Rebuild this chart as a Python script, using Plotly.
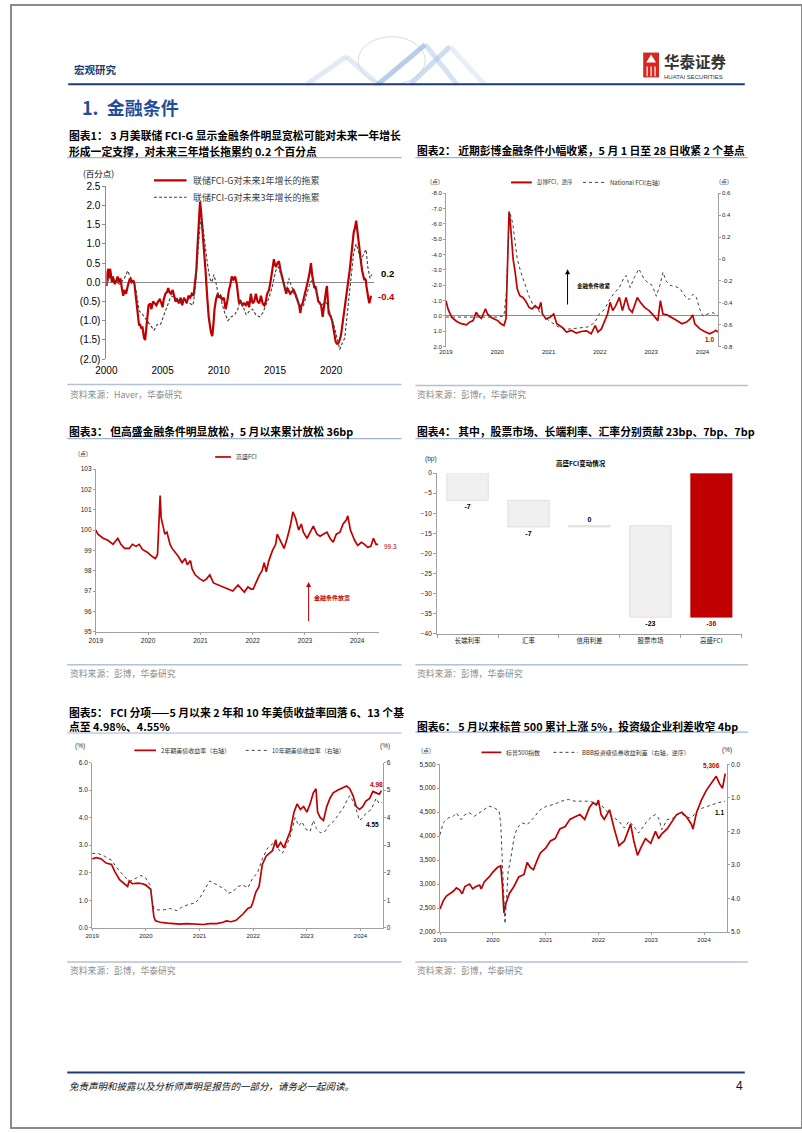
import plotly.graph_objects as go

W, H = 802, 1133
def X(p): return p / W
def Y(p): return 1 - p / H

CJK = "Noto Sans CJK SC"
LAT = "Liberation Sans, Noto Sans CJK SC"
RED = "#c00000"
AXC = "#a0a0a0"

# ---------------- Chart 1: Fed FCI-G ----------------
c1_t1 = [2000.0,2000.08,2000.17,2000.25,2000.33,2000.42,2000.5,2000.58,2000.67,2000.75,2000.9,2001.0,2001.1,2001.25,2001.4,2001.5,2001.6,2001.75,2001.9,2002.0,2002.1,2002.25,2002.4,2002.5,2002.6,2002.75,2002.9,2003.0,2003.1,2003.2,2003.35,2003.45,2003.6,2003.75,2003.9,2004.0,2004.15,2004.3,2004.45,2004.6,2004.75,2004.9,2005.0,2005.1,2005.25,2005.4,2005.5,2005.6,2005.75,2005.9,2006.0,2006.15,2006.3,2006.45,2006.6,2006.75,2006.9,2007.0,2007.15,2007.3,2007.45,2007.6,2007.75,2007.85,2008.0,2008.1,2008.2,2008.27,2008.33,2008.42,2008.52,2008.62,2008.72,2008.82,2008.95,2009.1,2009.3,2009.42,2009.52,2009.62,2009.75,2009.9,2010.0,2010.15,2010.3,2010.45,2010.6,2010.75,2010.9,2011.0,2011.15,2011.3,2011.45,2011.6,2011.7,2011.8,2011.95,2012.1,2012.25,2012.4,2012.55,2012.7,2012.85,2013.0,2013.15,2013.3,2013.45,2013.6,2013.75,2013.9,2014.05,2014.18,2014.3,2014.47,2014.62,2014.77,2014.9,2015.0,2015.1,2015.22,2015.35,2015.5,2015.65,2015.8,2016.0,2016.1,2016.2,2016.35,2016.5,2016.65,2016.8,2016.92,2017.05,2017.15,2017.25,2017.35,2017.45,2017.58,2017.7,2017.8,2017.9,2018.05,2018.2,2018.3,2018.4,2018.5,2018.6,2018.72,2018.85,2019.0,2019.1,2019.24,2019.35,2019.45,2019.55,2019.62,2019.7,2019.77,2019.87,2019.97,2020.08,2020.18,2020.3,2020.4,2020.5,2020.6,2020.7,2020.85,2020.95,2021.05,2021.15,2021.25,2021.35,2021.43,2021.55,2021.64,2021.75,2021.84,2021.92,2022.0,2022.1,2022.22,2022.3,2022.37,2022.45,2022.5,2022.58,2022.66,2022.75,2022.87,2022.95,2023.0,2023.08,2023.13,2023.2,2023.25,2023.32,2023.39,2023.47,2023.54]
c1_v1 = [-0.1,0.25,0.35,0.1,0.35,0.2,0.0,0.15,0.0,-0.05,0.05,0.15,0.0,0.1,-0.2,-0.35,-0.2,-0.3,-0.1,0.0,0.1,0.0,0.05,-0.05,-0.3,-0.6,-1.1,-1.1,-1.2,-1.15,-1.45,-1.5,-1.1,-0.6,-0.55,-0.7,-0.5,-0.55,-0.6,-0.5,-0.45,-0.55,-0.65,-0.45,-0.3,-0.25,-0.15,-0.25,-0.3,-0.2,-0.35,-0.5,-0.45,-0.55,-0.4,-0.6,-0.4,-0.45,-0.55,-0.35,-0.4,-0.3,-0.35,-0.1,0.3,0.9,1.6,1.75,2.1,1.85,1.5,1.1,0.7,0.3,-0.3,-0.9,-1.3,-1.4,-1.1,-0.7,-0.45,-0.3,-0.4,-0.35,-0.45,-0.4,-0.7,-0.5,-0.2,-0.1,0.15,0.05,0.15,-0.05,-0.3,-0.55,-0.5,-0.6,-0.55,-0.6,-0.5,-0.65,-0.3,-0.55,-0.5,-0.3,-0.5,-0.55,-0.35,-0.55,-0.6,-0.5,-0.3,-0.2,0.05,0.3,0.6,0.45,0.4,0.5,0.55,0.3,0.1,-0.1,-0.3,-0.15,-0.2,-0.3,-0.25,-0.2,-0.3,-0.4,-0.55,-0.6,-0.8,-0.6,-0.55,-0.4,-0.3,-0.15,0.0,0.2,0.5,0.2,0.0,-0.15,-0.1,-0.3,-0.5,-0.55,-0.6,-0.9,-0.6,-0.4,-0.2,-0.1,-0.5,-0.8,-0.85,-0.9,-1.0,-1.2,-1.4,-1.55,-1.6,-1.6,-1.55,-1.4,-1.2,-1.0,-0.8,-0.5,-0.3,-0.2,0.1,0.3,0.6,0.9,1.1,1.3,1.4,1.6,1.4,1.2,1.0,0.8,0.65,0.5,0.3,0.1,0.05,0.1,0.05,-0.1,-0.25,-0.4,-0.45,-0.55,-0.45,-0.35]
c1_t3 = [2000.0,2000.3,2000.73,2001.17,2001.6,2001.9,2002.1,2002.34,2002.63,2002.92,2003.13,2003.36,2003.65,2003.95,2004.24,2004.53,2004.82,2005.12,2005.41,2005.7,2006.0,2006.3,2006.6,2006.87,2007.16,2007.46,2007.7,2007.9,2008.04,2008.19,2008.33,2008.48,2008.63,2008.77,2008.98,2009.2,2009.38,2009.56,2009.74,2009.94,2010.23,2010.53,2010.82,2011.1,2011.4,2011.7,2011.9,2012.13,2012.43,2012.72,2013.0,2013.3,2013.6,2013.9,2014.18,2014.47,2014.77,2015.06,2015.3,2015.5,2015.8,2016.0,2016.23,2016.46,2016.7,2016.96,2017.25,2017.54,2017.84,2018.13,2018.33,2018.57,2018.86,2019.15,2019.45,2019.68,2019.97,2020.26,2020.56,2020.76,2020.96,2021.2,2021.4,2021.6,2021.78,2021.99,2022.22,2022.46,2022.66,2022.9,2023.1,2023.25,2023.45,2023.6]
c1_v3 = [-0.1,0.15,0.05,-0.05,0.1,0.3,0.15,0.05,-0.2,-0.75,-0.8,-0.9,-1.0,-1.15,-1.25,-1.1,-1.1,-0.85,-0.6,-0.4,-0.35,-0.45,-0.55,-0.45,-0.5,-0.55,-0.6,-0.2,0.3,1.0,1.5,1.7,1.3,0.9,0.5,0.1,0.0,0.2,0.0,-0.3,-0.5,-0.8,-1.0,-0.9,-0.85,-0.7,-0.45,-0.6,-0.85,-0.75,-0.7,-0.85,-0.9,-0.8,-0.6,-0.4,-0.1,0.3,0.4,0.2,-0.05,-0.25,0.1,-0.1,-0.3,-0.45,-0.65,-0.6,-0.3,0.0,0.05,-0.2,-0.45,-0.6,-0.5,-0.6,-0.85,-1.15,-1.5,-1.75,-1.6,-1.45,-0.9,-0.3,0.3,0.75,1.0,0.75,0.55,0.75,0.85,0.4,0.1,0.2]
c1_yticks = [-2.0,-1.5,-1.0,-0.5,0.0,0.5,1.0,1.5,2.0,2.5]
c1_ylabels = ["(2.0)","(1.5)","(1.0)","(0.5)","0.0","0.5","1.0","1.5","2.0","2.5"]
c1_xticks = [2000,2005,2010,2015,2020]

# ---------------- Chart 2: Bloomberg FCI & National FCI ----------------
c2_t_bb = [2019.0,2019.04,2019.11,2019.21,2019.3,2019.4,2019.46,2019.53,2019.59,2019.63,2019.69,2019.77,2019.81,2019.88,2019.94,2020.01,2020.07,2020.13,2020.17,2020.19,2020.21,2020.23,2020.25,2020.28,2020.31,2020.35,2020.39,2020.44,2020.5,2020.55,2020.62,2020.68,2020.74,2020.81,2020.85,2020.88,2020.95,2021.03,2021.1,2021.16,2021.26,2021.35,2021.45,2021.54,2021.64,2021.74,2021.83,2021.91,2021.96,2022.03,2022.09,2022.15,2022.2,2022.25,2022.31,2022.38,2022.44,2022.51,2022.57,2022.63,2022.73,2022.79,2022.87,2022.96,2023.05,2023.13,2023.18,2023.23,2023.31,2023.4,2023.5,2023.6,2023.69,2023.76,2023.81,2023.85,2023.95,2024.04,2024.14,2024.21,2024.26,2024.3]
c2_v_bb = [-1.0,-0.46,0.08,0.36,0.5,0.58,0.4,0.3,-0.24,-0.02,0.15,-0.46,-0.13,0.08,0.19,0.3,0.51,0.62,0.19,-1.75,-4.77,-6.81,-6.28,-4.77,-3.69,-2.83,-1.75,-1.32,-1.21,-1.0,-0.56,-0.46,-0.67,-0.46,-0.89,-0.13,0.19,0.08,-0.13,0.51,0.73,1.05,0.94,1.12,1.01,0.97,1.16,0.62,1.05,0.84,0.4,-0.13,-0.89,-0.35,-0.67,-1.21,-0.35,-1.21,-0.46,-0.24,-1.21,-0.89,-0.56,-0.35,-0.02,0.3,-1.0,-0.13,-0.07,0.08,0.3,0.51,0.4,0.19,-0.07,0.51,0.84,1.01,1.16,1.05,0.94,1.05]
c2_t_nf = [2019.0,2019.6,2020.0,2020.13,2020.18,2020.22,2020.25,2020.3,2020.35,2020.39,2020.46,2020.52,2020.62,2020.71,2020.84,2021.0,2021.19,2021.38,2021.58,2021.77,2021.9,2021.99,2022.09,2022.19,2022.28,2022.38,2022.46,2022.51,2022.59,2022.67,2022.76,2022.86,2022.92,2023.02,2023.1,2023.17,2023.23,2023.29,2023.37,2023.47,2023.56,2023.66,2023.74,2023.82,2023.88,2023.95,2024.01,2024.11,2024.21,2024.3]
c2_v_nf = [-0.53,-0.53,-0.53,-0.52,-0.3,0.24,0.42,0.33,0.15,0.0,-0.12,-0.21,-0.34,-0.43,-0.49,-0.56,-0.62,-0.64,-0.63,-0.62,-0.58,-0.5,-0.46,-0.37,-0.31,-0.26,-0.18,-0.15,-0.26,-0.17,-0.09,-0.18,-0.21,-0.24,-0.34,-0.24,-0.12,-0.2,-0.24,-0.25,-0.27,-0.34,-0.37,-0.32,-0.35,-0.46,-0.52,-0.5,-0.49,-0.52]
c2_lticks = [-8,-7,-6,-5,-4,-3,-2,-1,0,1,2]
c2_rticks = [0.6,0.4,0.2,0.0,-0.2,-0.4,-0.6,-0.8]
c2_rlabels = ["0.6","0.4","0.2","0","-0.2","-0.4","-0.6","-0.8"]
years = [2019,2020,2021,2022,2023,2024]

# ---------------- Chart 3: Goldman Sachs FCI ----------------
c3_t = [2019.0,2019.04,2019.14,2019.23,2019.33,2019.39,2019.42,2019.48,2019.55,2019.64,2019.7,2019.77,2019.83,2019.89,2019.99,2020.08,2020.14,2020.18,2020.21,2020.23,2020.25,2020.28,2020.32,2020.36,2020.42,2020.46,2020.52,2020.58,2020.65,2020.71,2020.75,2020.81,2020.84,2020.9,2020.99,2021.06,2021.12,2021.18,2021.25,2021.34,2021.43,2021.53,2021.62,2021.72,2021.78,2021.84,2021.91,2021.97,2022.01,2022.06,2022.13,2022.18,2022.22,2022.26,2022.31,2022.38,2022.44,2022.47,2022.53,2022.6,2022.66,2022.72,2022.77,2022.82,2022.88,2022.93,2022.97,2023.04,2023.1,2023.16,2023.23,2023.29,2023.35,2023.42,2023.48,2023.54,2023.6,2023.67,2023.73,2023.79,2023.82,2023.87,2023.95,2024.01,2024.08,2024.14,2024.2,2024.26,2024.31,2024.36,2024.4]
c3_v = [100.0,99.8,99.6,99.5,99.3,99.5,99.6,99.3,99.1,99.1,99.3,99.2,99.3,99.05,98.9,98.7,98.6,98.8,100.5,101.7,100.6,100.3,99.8,99.9,99.3,99.1,98.9,98.7,98.4,98.6,98.3,98.5,98.1,97.8,97.6,97.5,97.6,97.8,97.4,97.3,97.2,97.1,97.0,97.3,97.1,96.95,97.2,97.1,97.1,97.4,97.8,98.0,98.4,97.95,98.5,99.0,99.3,99.8,99.5,99.1,99.6,100.2,100.9,100.6,100.0,100.3,99.9,99.6,99.9,100.2,99.8,99.7,99.8,99.9,99.6,99.4,99.8,99.9,100.3,100.5,100.7,100.0,99.5,99.25,99.4,99.3,99.15,99.2,99.6,99.3,99.3]

# ---------------- Chart 4: GS FCI change decomposition ----------------
c4_cats = ["长端利率","汇率","信用利差","股票市场","高盛FCI"]
c4_change = [-6.8,-6.6,0.3,-22.8,-35.9]
c4_base = [0.0,-6.8,-13.4,-13.1,0.0]
c4_labels = ["-7","-7","0","-23","-36"]

# ---------------- Chart 5: 2Y & 10Y UST yields ----------------
c5_t2 = [2019.0,2019.08,2019.17,2019.26,2019.36,2019.42,2019.51,2019.6,2019.66,2019.69,2019.75,2019.85,2019.94,2020.0,2020.09,2020.12,2020.15,2020.18,2020.27,2020.4,2020.52,2020.64,2020.76,2020.89,2020.98,2021.07,2021.19,2021.32,2021.44,2021.5,2021.59,2021.68,2021.81,2021.9,2021.96,2021.99,2022.05,2022.11,2022.17,2022.24,2022.3,2022.36,2022.42,2022.45,2022.51,2022.57,2022.63,2022.69,2022.76,2022.82,2022.88,2022.94,2023.0,2023.06,2023.12,2023.17,2023.2,2023.25,2023.31,2023.37,2023.43,2023.49,2023.58,2023.68,2023.74,2023.8,2023.86,2023.92,2023.98,2024.04,2024.1,2024.17,2024.23,2024.29,2024.35,2024.39]
c5_v2 = [2.5,2.55,2.5,2.35,2.3,2.05,1.75,1.6,1.5,1.7,1.6,1.62,1.6,1.55,1.4,0.9,0.4,0.25,0.2,0.17,0.14,0.13,0.15,0.14,0.12,0.12,0.15,0.15,0.2,0.25,0.22,0.27,0.5,0.7,0.75,0.9,1.3,1.5,2.3,2.6,2.7,2.8,3.2,2.9,3.1,2.9,3.2,3.5,4.2,4.5,4.3,4.4,4.2,4.5,4.9,5.05,4.2,4.0,3.9,4.4,4.7,4.9,5.0,5.1,5.15,5.05,4.8,4.4,4.3,4.4,4.6,4.7,4.95,4.9,4.85,4.98]
c5_t10 = [2019.0,2019.11,2019.23,2019.36,2019.45,2019.54,2019.63,2019.72,2019.81,2019.91,2020.0,2020.08,2020.12,2020.15,2020.21,2020.34,2020.46,2020.58,2020.67,2020.8,2020.92,2021.01,2021.1,2021.19,2021.29,2021.38,2021.47,2021.53,2021.62,2021.71,2021.81,2021.9,2021.99,2022.08,2022.17,2022.27,2022.33,2022.39,2022.45,2022.54,2022.6,2022.69,2022.78,2022.85,2022.91,2022.97,2023.06,2023.12,2023.18,2023.25,2023.34,2023.4,2023.49,2023.58,2023.68,2023.74,2023.8,2023.86,2023.92,2023.98,2024.04,2024.1,2024.2,2024.29,2024.35,2024.39]
c5_v10 = [2.7,2.7,2.6,2.45,2.2,2.0,1.8,1.7,1.8,1.9,1.8,1.55,1.0,0.7,0.65,0.65,0.7,0.62,0.75,0.85,0.9,1.1,1.4,1.7,1.6,1.5,1.4,1.25,1.3,1.5,1.55,1.45,1.8,2.0,2.5,2.9,3.0,3.1,2.9,2.7,2.9,3.3,4.0,3.7,3.85,3.6,3.5,3.9,3.6,3.45,3.5,3.7,3.85,4.1,4.35,4.6,4.8,4.6,4.3,3.9,4.0,4.15,4.3,4.7,4.5,4.55]
c5_lticks = [0,1,2,3,4,5,6]

# ---------------- Chart 6: S&P 500 & BBB spread ----------------
c6_t_spx = [2019.0,2019.06,2019.12,2019.19,2019.25,2019.31,2019.37,2019.42,2019.47,2019.56,2019.62,2019.68,2019.75,2019.78,2019.84,2019.93,2020.0,2020.09,2020.15,2020.18,2020.21,2020.25,2020.31,2020.4,2020.49,2020.59,2020.65,2020.71,2020.77,2020.84,2020.9,2021.0,2021.09,2021.18,2021.27,2021.37,2021.46,2021.55,2021.65,2021.74,2021.83,2021.9,2021.96,2022.0,2022.05,2022.11,2022.21,2022.3,2022.39,2022.49,2022.55,2022.61,2022.67,2022.74,2022.8,2022.89,2022.99,2023.08,2023.14,2023.2,2023.3,2023.39,2023.48,2023.58,2023.67,2023.76,2023.79,2023.86,2023.95,2024.04,2024.14,2024.23,2024.29,2024.35,2024.4]
c6_v_spx = [2480,2650,2750,2800,2850,2920,2880,2800,2950,3000,2900,2950,2980,2900,3050,3150,3250,3350,3380,3000,2400,2600,2800,2950,3150,3200,3450,3350,3300,3500,3650,3750,3900,3950,4150,4200,4350,4400,4450,4350,4600,4700,4650,4750,4450,4350,4550,4150,3800,3900,4100,4250,3900,3600,3750,3950,3850,4100,3950,4050,4150,4300,4450,4500,4400,4250,4150,4500,4750,4950,5100,5250,5100,5000,5306]
c6_t_bbb = [2019.0,2019.06,2019.16,2019.25,2019.31,2019.4,2019.47,2019.56,2019.65,2019.75,2019.84,2019.93,2020.03,2020.12,2020.15,2020.18,2020.21,2020.23,2020.26,2020.29,2020.34,2020.4,2020.46,2020.56,2020.65,2020.77,2020.9,2021.02,2021.15,2021.3,2021.43,2021.55,2021.68,2021.83,2021.93,2022.02,2022.11,2022.21,2022.3,2022.39,2022.49,2022.58,2022.67,2022.76,2022.83,2022.92,2023.02,2023.08,2023.14,2023.2,2023.3,2023.42,2023.55,2023.64,2023.73,2023.79,2023.89,2023.98,2024.07,2024.17,2024.26,2024.4]
c6_v_bbb = [2.1,1.75,1.6,1.55,1.45,1.65,1.5,1.45,1.55,1.45,1.35,1.25,1.3,1.4,1.8,3.0,4.3,4.75,4.0,3.2,2.8,2.2,1.9,1.75,1.8,1.6,1.35,1.25,1.2,1.1,1.05,1.1,1.1,1.1,1.15,1.2,1.3,1.5,1.6,1.7,1.9,1.7,1.85,2.05,1.9,1.7,1.55,1.5,1.6,1.95,1.65,1.6,1.45,1.55,1.6,1.55,1.35,1.3,1.25,1.2,1.15,1.1]
c6_lticks = [2000,2500,3000,3500,4000,4500,5000,5500]
c6_rticks = [0,1,2,3,4,5]

fig = go.Figure()

# traces
fig.add_trace(go.Scatter(x=c1_t1, y=c1_v1, mode="lines", line=dict(color=RED, width=2.2), xaxis="x", yaxis="y"))
fig.add_trace(go.Scatter(x=c1_t3, y=c1_v3, mode="lines", line=dict(color="#404040", width=1.1, dash="3px,2px"), xaxis="x", yaxis="y"))

fig.add_trace(go.Scatter(x=c2_t_nf, y=c2_v_nf, mode="lines", line=dict(color="#404040", width=1, dash="dot"), xaxis="x2", yaxis="y3"))
fig.add_trace(go.Scatter(x=c2_t_bb, y=c2_v_bb, mode="lines", line=dict(color=RED, width=1.7), xaxis="x2", yaxis="y2"))

fig.add_trace(go.Scatter(x=c3_t, y=c3_v, mode="lines", line=dict(color=RED, width=1.7), xaxis="x3", yaxis="y4"))

fig.add_trace(go.Bar(x=c4_cats, y=c4_change, base=c4_base, width=0.68,
                     marker=dict(color=["#f0f0f0"]*4 + [RED], line=dict(color=["#d0d0d0"]*4 + [RED], width=0.6)),
                     text=["<b>%s</b>" % s for s in c4_labels], textposition="outside",
                     textfont=dict(size=7, color=["#000"]*4 + [RED], family=LAT),
                     cliponaxis=False, xaxis="x4", yaxis="y5"))

fig.add_trace(go.Scatter(x=c5_t10, y=c5_v10, mode="lines", line=dict(color="#404040", width=1, dash="dot"), xaxis="x5", yaxis="y7"))
fig.add_trace(go.Scatter(x=c5_t2, y=c5_v2, mode="lines", line=dict(color=RED, width=1.7), xaxis="x5", yaxis="y6"))

fig.add_trace(go.Scatter(x=c6_t_bbb, y=c6_v_bbb, mode="lines", line=dict(color="#404040", width=1, dash="dot"), xaxis="x6", yaxis="y9"))
fig.add_trace(go.Scatter(x=c6_t_spx, y=c6_v_spx, mode="lines", line=dict(color=RED, width=1.7), xaxis="x6", yaxis="y8"))

def tf(size, color="#222"):
    return dict(family=LAT, size=size, color=color)

common = dict(showgrid=False, zeroline=False, fixedrange=True)

layout = dict(
    width=W, height=H, autosize=False, showlegend=False,
    margin=dict(l=0, r=0, t=0, b=0),
    paper_bgcolor="white", plot_bgcolor="rgba(0,0,0,0)",
    font=dict(family=LAT, color="#222"),
    # chart 1
    xaxis=dict(domain=[X(96.7), X(368)], anchor="y", range=[2000, 2023.8], tickvals=c1_xticks,
               ticktext=[str(v) for v in c1_xticks], tickfont=tf(10, "#000"), showline=False, ticks="",
               ticklabelstandoff=4, **common),
    yaxis=dict(domain=[Y(357.3), Y(182.7)], anchor="x", range=[-2.0, 2.5], tickvals=c1_yticks, ticktext=c1_ylabels,
               tickfont=tf(10, "#000"), showline=True, linecolor="#8c8c8c", linewidth=1, ticks="outside",
               ticklen=3, tickcolor="#8c8c8c",
               showgrid=False, zeroline=True, zerolinecolor="#8c8c8c", zerolinewidth=1, fixedrange=True),
    # chart 2
    xaxis2=dict(domain=[X(441), X(716.7)], anchor="y2", range=[2019, 2024.3], tickvals=years,
                ticktext=[str(v) for v in years], tickfont=tf(6), showline=False, ticks="", **common),
    yaxis2=dict(domain=[Y(344.7), Y(190)], anchor="x2", range=[2, -8], tickvals=c2_lticks,
                ticktext=["%.1f" % v for v in c2_lticks], tickfont=tf(6), showline=True, linecolor=AXC,
                ticks="outside", ticklen=2, tickcolor=AXC, showgrid=False, zeroline=True,
                zerolinecolor="#8c8c8c", zerolinewidth=1, fixedrange=True),
    yaxis3=dict(overlaying="y2", side="right", anchor="x2", range=[-0.8, 0.6], tickvals=c2_rticks,
                ticktext=c2_rlabels, tickfont=tf(6), showline=True, linecolor=AXC, ticks="outside",
                ticklen=2, tickcolor=AXC, **common),
    # chart 3
    xaxis3=dict(domain=[X(86), X(373.3)], anchor="y4", range=[2019, 2024.42], tickvals=years,
                ticktext=[str(v) for v in years], tickfont=tf(6.5), showline=True, linecolor=AXC,
                ticks="outside", ticklen=2, tickcolor=AXC, **common),
    yaxis4=dict(domain=[Y(632.3), Y(468.3)], anchor="x3", range=[95, 103], dtick=1, tickfont=tf(6.5),
                showline=True, linecolor=AXC, ticks="outside", ticklen=2, tickcolor=AXC, **common),
    # chart 4
    xaxis4=dict(domain=[X(432), X(741)], anchor="y5", type="category", range=[-0.5, 4.5],
                tickfont=dict(family=CJK, size=6.5, color="#222"), showline=True, linecolor=AXC,
                ticks="outside", ticklen=3, tickcolor=AXC, tickson="boundaries", **common),
    yaxis5=dict(domain=[Y(634.3), Y(472.3)], anchor="x4", range=[-40, 0], dtick=5, tickfont=tf(6.5),
                showline=True, linecolor=AXC, ticks="outside", ticklen=3, tickcolor=AXC, **common),
    # chart 5
    xaxis5=dict(domain=[X(82.3), X(376.7)], anchor="y6", range=[2019, 2024.41], tickvals=years,
                ticktext=[str(v) for v in years], tickfont=tf(6), showline=True, linecolor=AXC,
                ticks="outside", ticklen=2, tickcolor=AXC, **common),
    yaxis6=dict(domain=[Y(931), Y(764.3)], anchor="x5", range=[0, 6], tickvals=c5_lticks,
                ticktext=["%.1f" % v for v in c5_lticks], tickfont=tf(6.5), showline=True, linecolor=AXC,
                ticks="outside", ticklen=2, tickcolor=AXC, **common),
    yaxis7=dict(overlaying="y6", side="right", anchor="x5", range=[0, 6], tickvals=c5_lticks,
                ticktext=[str(v) for v in c5_lticks], tickfont=tf(6.5), showline=True, linecolor=AXC,
                ticks="outside", ticklen=2, tickcolor=AXC, **common),
    # chart 6
    xaxis6=dict(domain=[X(435), X(725.7)], anchor="y8", range=[2019, 2024.43], tickvals=years,
                ticktext=[str(v) for v in years], tickfont=tf(6), showline=True, linecolor=AXC,
                ticks="outside", ticklen=2, tickcolor=AXC, **common),
    yaxis8=dict(domain=[Y(935.3), Y(766)], anchor="x6", range=[2000, 5500], tickvals=c6_lticks,
                ticktext=["{:,}".format(v) for v in c6_lticks], tickfont=tf(6.5), showline=True,
                linecolor=AXC, ticks="outside", ticklen=2, tickcolor=AXC, **common),
    yaxis9=dict(overlaying="y8", side="right", anchor="x6", range=[5, 0], tickvals=c6_rticks,
                ticktext=["%.1f" % v for v in c6_rticks], tickfont=tf(6.5), showline=True, linecolor=AXC,
                ticks="outside", ticklen=2, tickcolor=AXC, **common),
)
fig.update_layout(**layout)

anns = []
def ann(text, x, y, size, color="#000", xa="left", ya="middle", fam=CJK):
    anns.append(dict(text=text, x=X(x), y=Y(y), xref="paper", yref="paper", xanchor=xa, yanchor=ya,
                     showarrow=False, font=dict(family=fam, size=size, color=color)))

shapes = []
def hline(x0, x1, y, color, width, dash="solid"):
    shapes.append(dict(type="line", xref="paper", yref="paper", x0=X(x0), x1=X(x1), y0=Y(y), y1=Y(y),
                       line=dict(color=color, width=width, dash=dash)))

# page frame
shapes.append(dict(type="rect", xref="paper", yref="paper", x0=0, x1=1, y0=0, y1=1,
                   line=dict(color="#8a8a8a", width=2)))

# header decoration (faint globe + zigzag)
shapes.append(dict(type="circle", xref="paper", yref="paper", x0=X(352), x1=X(420), y0=Y(80), y1=Y(32),
                   line=dict(color="#d8dde6", width=1)))
for (a, b, c, d, col) in [(300, 80, 340, 52, "#c9d9ee"), (340, 52, 372, 80, "#c9d9ee"),
                          (372, 80, 420, 40, "#7fa6d6"), (420, 40, 452, 80, "#b9cde8"),
                          (405, 80, 445, 42, "#a9c3e6"), (445, 42, 480, 80, "#d9e3f1")]:
    shapes.append(dict(type="line", xref="paper", yref="paper", x0=X(a), y0=Y(b), x1=X(c), y1=Y(d),
                       line=dict(color=col, width=5), opacity=0.55))
# header / footer rules
hline(58, 744, 80, "#1f3b73", 2)
hline(57, 744, 1077, "#1f3b73", 2)
ann("<b>宏观研究</b>", 62, 65, 10.5, "#1f3b73")
ann("<b>1.  金融条件</b>", 70, 103, 18, "#1f4e9c")
# logo
shapes.append(dict(type="rect", xref="paper", yref="paper", x0=X(641), x1=X(657), y0=Y(73), y1=Y(48),
                   fillcolor="#d7261e", line=dict(width=0)))
for xx in [645, 649, 653]:
    shapes.append(dict(type="line", xref="paper", yref="paper", x0=X(xx), x1=X(xx), y0=Y(72), y1=Y(62),
                       line=dict(color="white", width=1.2)))
shapes.append(dict(type="path", xref="paper", yref="paper",
                   path="M %f %f L %f %f L %f %f Z" % (X(649), Y(50), X(644), Y(58), X(654), Y(58)),
                   fillcolor="white", line=dict(width=0)))
ann("<b>华泰证券</b>", 660, 57, 15.5, "#333333")
ann("HUATAI SECURITIES", 660, 72.5, 6, "#333333", fam=LAT)
ann("<i>免责声明和披露以及分析师声明是报告的一部分，请务必一起阅读。</i>", 57, 1091, 9.5, "#111")
ann("4", 744, 1091, 12, "#111", xa="right", fam=LAT)

# chart titles
TU = "#9fb3d6"
ann("<b>图表1：\u00a03 月美联储 FCI-G 显示金融条件明显宽松可能对未来一年增长</b>", 57, 131, 10.8)
ann("<b>形成一定支撑，对未来三年增长拖累约 0.2 个百分点</b>", 57, 147, 10.8)
hline(57, 396, 154, TU, 1.2)
ann("<b>图表2：\u00a0近期彭博金融条件小幅收紧，5 月 1 日至 28 日收紧 2 个基点</b>", 410, 146, 10.8)
hline(410, 747, 154, TU, 1.2)
ann("<b>图表3：\u00a0但高盛金融条件明显放松，5 月以来累计放松 36bp</b>", 57, 430, 10.8)
hline(57, 396, 437.5, TU, 1.2)
ann("<b>图表4：\u00a0其中，股票市场、长端利率、汇率分别贡献 23bp、7bp、7bp</b>", 410, 430, 10.8)
hline(410, 747, 437.5, TU, 1.2)
ann("<b>图表5：\u00a0FCI 分项——5 月以来 2 年和 10 年美债收益率回落 6、13 个基</b>", 57, 713, 10.8)
ann("<b>点至 4.98%、4.55%</b>", 57, 727.5, 10.8)
hline(57, 396, 734.5, TU, 1.2)
ann("<b>图表6：\u00a05 月以来标普 500 累计上涨 5%，投资级企业利差收窄 4bp</b>", 410, 727, 10.8)
hline(410, 747, 733.5, TU, 1.2)

# source lines
SL = "#b4c0d3"
for (x0, x1, y) in [(57, 396, 383), (410, 747, 384), (57, 396, 665.5), (410, 747, 665.5), (57, 396, 965.5), (410, 747, 965.5)]:
    hline(x0, x1, y, SL, 1.5)
SC = "#8a8a8a"
ann("资料来源：Haver，华泰研究", 58, 393, 8.8, SC)
ann("资料来源：彭博r，华泰研究", 410, 393, 8.8, SC)
ann("资料来源：彭博，华泰研究", 58, 674.5, 8.8, SC)
ann("资料来源：彭博，华泰研究", 410, 674.5, 8.8, SC)
ann("资料来源：彭博，华泰研究", 58, 974.5, 8.8, SC)
ann("资料来源：彭博，华泰研究", 410, 974.5, 8.8, SC)

# chart 1 extras
ann("(百分点)", 71, 169, 8.5, "#000")
hline(145, 178, 177, RED, 2.2)
hline(145, 178, 194, "#404040", 1.1, "3px,2px")
ann("联储FCI-G对未来1年增长的拖累", 183, 177, 9, "#404040")
ann("联储FCI-G对未来3年增长的拖累", 183, 194, 9, "#404040")
ann("<b>0.2</b>", 373, 271, 9.5, "#000", fam=LAT)
ann("<b>-0.4</b>", 370, 294, 9.5, RED, fam=LAT)

# chart 2 extras
ann("(点)", 430, 178, 6, "#333", xa="center")
ann("(点)", 723, 178, 6, "#333", xa="center")
hline(507, 528, 179, RED, 2)
ann("彭博FCI，逆序", 531, 179, 5.5, "#333")
hline(580, 603, 179, "#404040", 1, "dot")
ann("National FCI(右轴)", 605, 179, 6, "#333")
anns.append(dict(x=2021.37, y=-3.05, ax=2021.37, ay=-0.65, xref="x2", yref="y2", axref="x2", ayref="y2",
                 text="", showarrow=True, arrowhead=2, arrowsize=1, arrowwidth=1, arrowcolor="#000"))
ann("<b>金融条件收紧</b>", 572, 283, 5.5, "#000")
ann("<b>1.0</b>", 708, 337, 6.5, RED, xa="center", fam=LAT)

# chart 3 extras
ann("(点)", 66, 452, 6, "#333")
hline(207, 223, 456, RED, 1.7)
ann("高盛FCI", 226, 456, 6, "#333")
anns.append(dict(x=2023.07, y=97.45, ax=2023.07, ay=95.45, xref="x3", yref="y4", axref="x3", ayref="y4",
                 text="", showarrow=True, arrowhead=2, arrowsize=1, arrowwidth=1, arrowcolor=RED))
ann("<b>金融条件放宽</b>", 305, 598, 6, RED)
ann("99.3", 376, 546, 6.5, RED, fam=LAT)

# chart 4 extras
ann("(bp)", 418, 458, 6.5, "#333", fam=LAT)
ann("<b>高盛FCI变动情况</b>", 578, 462, 6.5, "#000", xa="center")

# chart 5 extras
ann("(%)", 63, 748, 6.5, "#333", fam=LAT)
ann("(%)", 372, 748, 6.5, "#333", fam=LAT)
hline(125, 147, 752, RED, 1.7)
ann("2年期美债收益率（右轴）", 150, 752, 6, "#333")
hline(238, 260, 752, "#404040", 1, "dot")
ann("10年期美债收益率（右轴）", 263, 752, 6, "#333")
ann("<b>4.98</b>", 371, 786, 6.5, RED, xa="center", fam=LAT)
ann("<b>4.55</b>", 367, 827, 6.5, "#000", xa="center", fam=LAT)

# chart 6 extras
ann("(点)", 414, 752, 6, "#333")
ann("(%)", 719, 752, 6.5, "#333", fam=LAT)
hline(477, 497, 754, RED, 1.7)
ann("标普500指数", 500, 754, 6, "#333")
hline(550, 575, 754, "#404040", 1, "dot")
ann("BBB投资级债券收益利差（右轴，逆序）", 577, 754, 6, "#333")
ann("<b>5,306</b>", 710, 768, 6.5, RED, xa="center", fam=LAT)
ann("<b>1.1</b>", 718, 815, 6.5, "#000", xa="center", fam=LAT)

fig.update_layout(annotations=anns, shapes=shapes)
fig.write_html("out.html", config={"displayModeBar": False},
               post_script="document.body.style.margin='0';document.body.style.overflow='hidden';")
